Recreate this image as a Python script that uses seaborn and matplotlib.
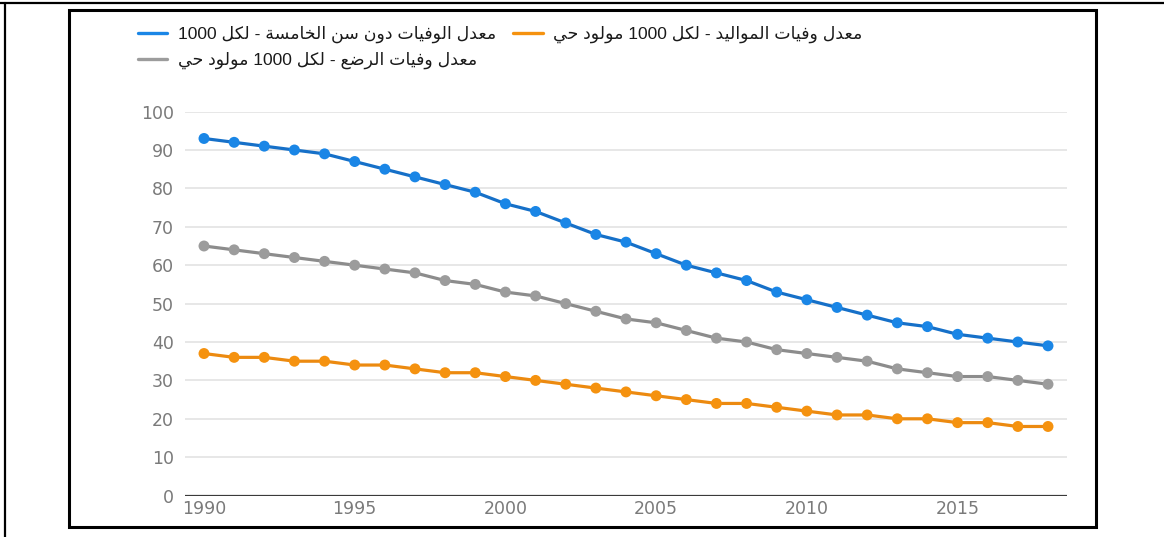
import re
import numpy as np
import pandas as pd
import seaborn as sns
import matplotlib
matplotlib.use("Agg")
import matplotlib.pyplot as plt
from matplotlib.lines import Line2D
from matplotlib.patches import Rectangle

# ---- data -------------------------------------------------------------
years = list(range(1990, 2019))
under5 = [93, 92, 91, 90, 89, 87, 85, 83, 81, 79,
          76, 74, 71, 68, 66, 63, 60, 58, 56, 53,
          51, 49, 47, 45, 44, 42, 41, 40, 39]
neonatal = [37, 36, 36, 35, 35, 34, 34, 33, 32, 32,
            31, 30, 29, 28, 27, 26, 25, 24, 24, 23,
            22, 21, 21, 20, 20, 19, 19, 18, 18]
infant = [65, 64, 63, 62, 61, 60, 59, 58, 56, 55,
          53, 52, 50, 48, 46, 45, 43, 41, 40, 38,
          37, 36, 35, 33, 32, 31, 31, 30, 29]
series_names = ["معدل الوفيات دون سن الخامسة - لكل 1000",
                "معدل وفيات المواليد - لكل 1000 مولود حي",
                "معدل وفيات الرضع - لكل 1000 مولود حي"]
yticks = [0, 10, 20, 30, 40, 50, 60, 70, 80, 90, 100]
xticks = [1990, 1995, 2000, 2005, 2010, 2015]

dot_colors = ["#1a86e6", "#f5920f", "#9c9c9c"]
line_colors = ["#1670c8", "#ec8a10", "#8c8c8c"]

# ---- minimal Arabic shaping (presentation forms + visual order) -------
FORMS = {
    "\u0627": ("\uFE8D", "\uFE8E", None, None),
    "\u062A": ("\uFE95", "\uFE96", "\uFE97", "\uFE98"),
    "\u0629": ("\uFE93", "\uFE94", None, None),
    "\u062D": ("\uFEA1", "\uFEA2", "\uFEA3", "\uFEA4"),
    "\u062E": ("\uFEA5", "\uFEA6", "\uFEA7", "\uFEA8"),
    "\u062F": ("\uFEA9", "\uFEAA", None, None),
    "\u0631": ("\uFEAD", "\uFEAE", None, None),
    "\u0633": ("\uFEB1", "\uFEB2", "\uFEB3", "\uFEB4"),
    "\u0636": ("\uFEBD", "\uFEBE", "\uFEBF", "\uFEC0"),
    "\u0639": ("\uFEC9", "\uFECA", "\uFECB", "\uFECC"),
    "\u0641": ("\uFED1", "\uFED2", "\uFED3", "\uFED4"),
    "\u0643": ("\uFED9", "\uFEDA", "\uFEDB", "\uFEDC"),
    "\u0644": ("\uFEDD", "\uFEDE", "\uFEDF", "\uFEE0"),
    "\u0645": ("\uFEE1", "\uFEE2", "\uFEE3", "\uFEE4"),
    "\u0646": ("\uFEE5", "\uFEE6", "\uFEE7", "\uFEE8"),
    "\u0648": ("\uFEED", "\uFEEE", None, None),
    "\u064A": ("\uFEF1", "\uFEF2", "\uFEF3", "\uFEF4"),
}


def shape_arabic(text):
    out = []
    for i, ch in enumerate(text):
        forms = FORMS.get(ch)
        if forms is None:
            out.append(ch)
            continue
        prev = text[i - 1] if i > 0 else ""
        nxt = text[i + 1] if i + 1 < len(text) else ""
        joins_prev = prev in FORMS and FORMS[prev][2] is not None
        joins_next = forms[2] is not None and nxt in FORMS
        if joins_prev and joins_next:
            out.append(forms[3])
        elif joins_prev:
            out.append(forms[1])
        elif joins_next:
            out.append(forms[2])
        else:
            out.append(forms[0])
    visual = "".join(out)[::-1]
    return re.sub(r"[0-9]+", lambda m: m.group(0)[::-1], visual)


# ---- figure -----------------------------------------------------------
sns.set_theme(style="white")
plt.rcParams["font.family"] = ["DejaVu Sans"]

W, H = 1164, 537
fig = plt.figure(figsize=(W / 100, H / 100), dpi=100)
ax = fig.add_axes([185 / W, (H - 495.6) / H, 882 / W, (495.6 - 111.6) / H])

df = pd.DataFrame({
    "year": years * 3,
    "value": under5 + neonatal + infant,
    "series": sum([[n] * len(years) for n in series_names], []),
})

sns.lineplot(data=df, x="year", y="value", hue="series",
             palette=dict(zip(series_names, line_colors)),
             linewidth=2.3, legend=False, ax=ax)
sns.scatterplot(data=df, x="year", y="value", hue="series",
                palette=dict(zip(series_names, dot_colors)),
                s=62, linewidth=0, legend=False, ax=ax, zorder=3)

ax.set_xlim(1989.37, 2018.63)
ax.set_ylim(0, 100)
ax.set_yticks(yticks)
ax.set_xticks(xticks)
ax.set_xlabel("")
ax.set_ylabel("")
for s in ax.spines.values():
    s.set_visible(False)
ax.grid(axis="y", color="#e3e3e3", linewidth=1.2)
ax.grid(axis="x", visible=False)
ax.axhline(0, color="#3a3a3a", linewidth=1.6, zorder=2)
ax.tick_params(axis="both", length=0, colors="#7a7a7a", labelsize=12.5)
ax.tick_params(axis="y", pad=8)
ax.tick_params(axis="x", pad=3)
for c in ax.collections:
    c.set_clip_on(False)

handles = [Line2D([], [], color=dot_colors[i], linewidth=2.4) for i in (0, 2, 1)]
labels = [shape_arabic(series_names[i]) for i in (0, 2, 1)]
leg = fig.legend(handles, labels, ncol=2, loc="upper left",
                 bbox_to_anchor=(122 / W, 1 - 10 / H),
                 frameon=False, handlelength=1.7, handletextpad=0.6,
                 columnspacing=1.0, labelspacing=0.5,
                 prop={"family": ["Liberation Sans", "DejaVu Sans"], "size": 12.5})
for t in leg.get_texts():
    t.set_color("#1a1a1a")

# page frame
fig.add_artist(Rectangle((69 / W, (H - 527) / H), (1096 - 69) / W, (527 - 10) / H,
                         transform=fig.transFigure, fill=False,
                         edgecolor="black", linewidth=2.2))
fig.add_artist(Line2D([0, 1], [1 - 3 / H, 1 - 3 / H], transform=fig.transFigure,
                      color="black", linewidth=1.6))
fig.add_artist(Line2D([5 / W, 5 / W], [0, 1 - 3 / H], transform=fig.transFigure,
                      color="black", linewidth=1.6))

fig.savefig("out.png", dpi=100)
